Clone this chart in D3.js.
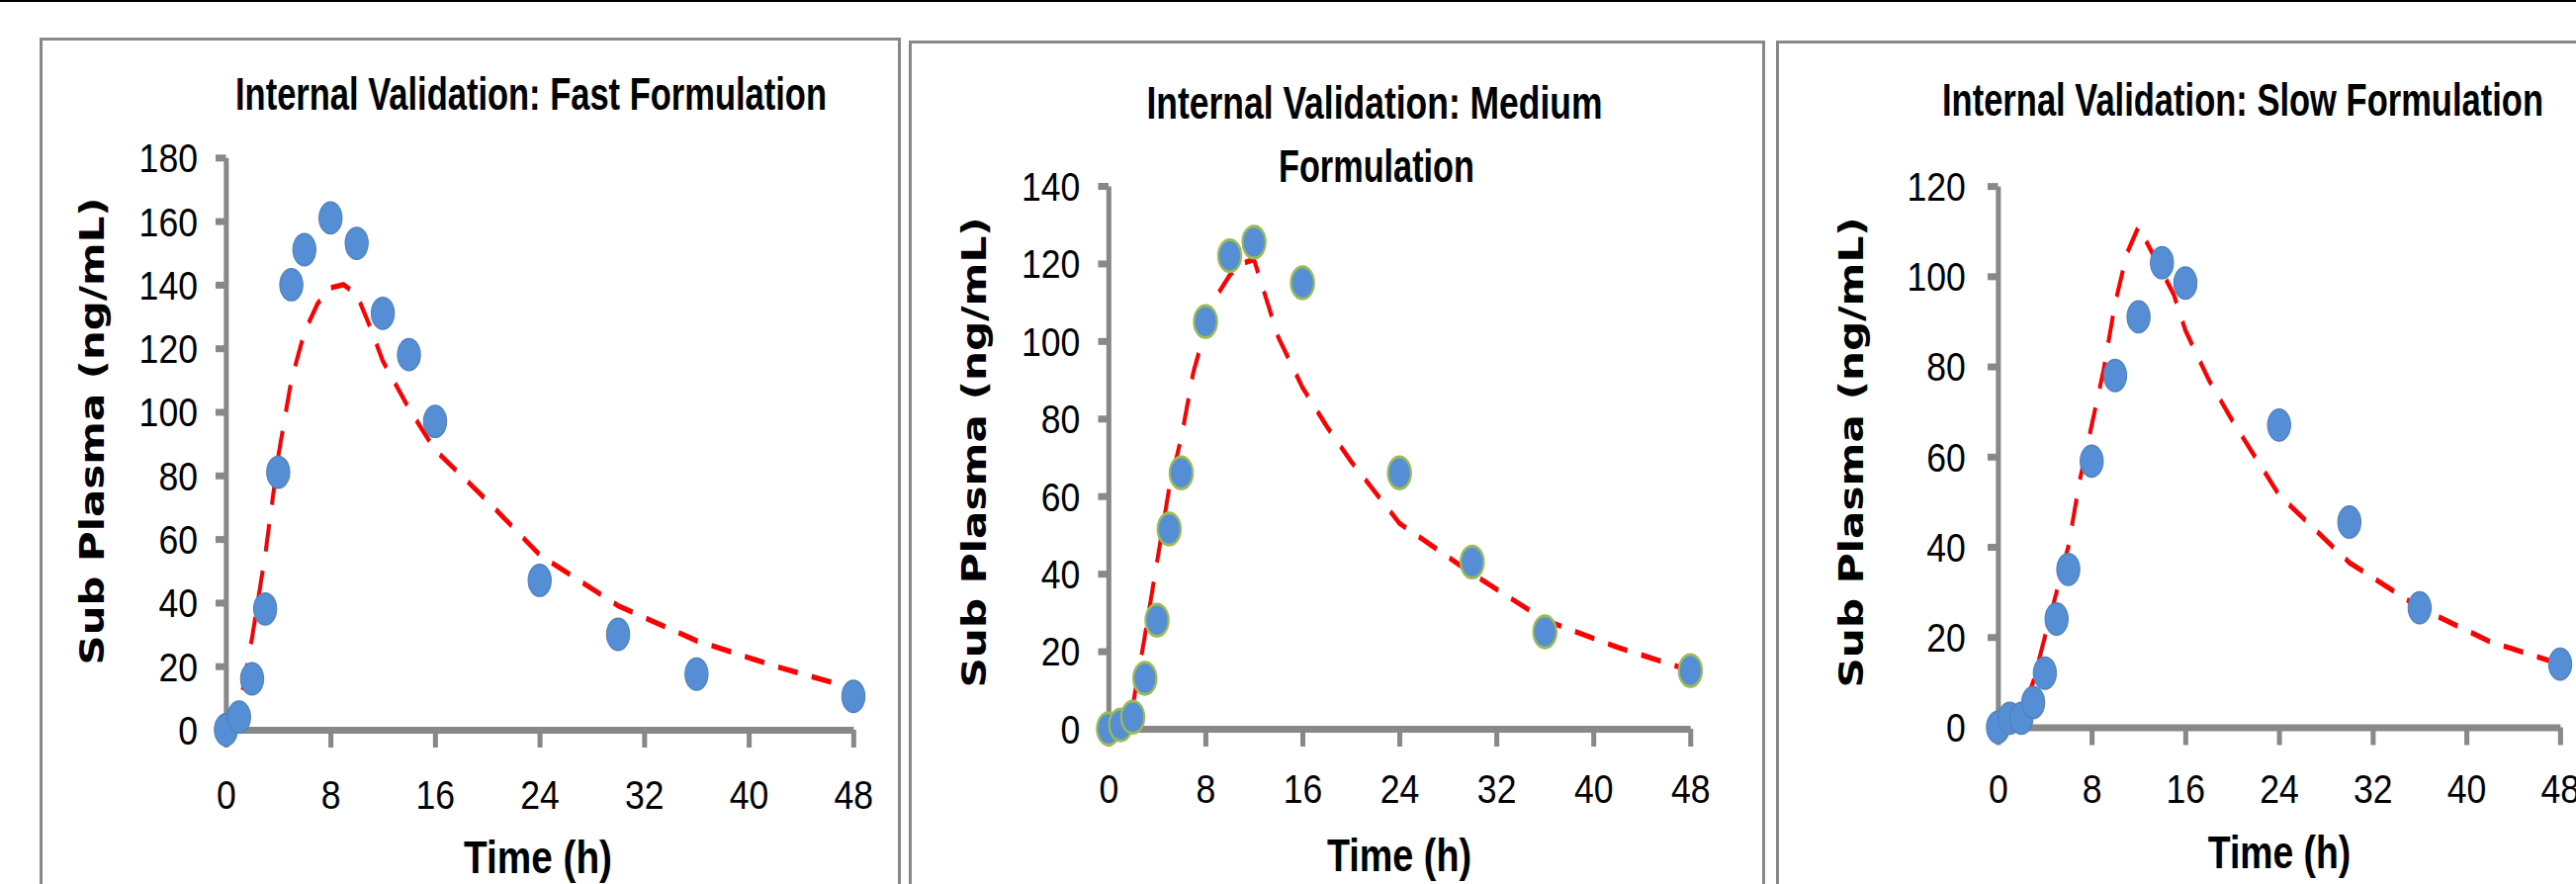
<!DOCTYPE html>
<html lang="en">
<head>
<meta charset="UTF-8">
<title>Internal Validation</title>
<script src="https://d3js.org/d3.v7.min.js"></script>
<style>
body { margin: 0; background: #fff; }
svg { display: block; }
</style>
</head>
<body>
<svg id="chart" width="2605" height="894"></svg>
<script>
// the source picture is squeezed sideways, so every panel is drawn
// in a wider space and then scaled by K on x
const K = 0.72;
const W = 2605, H = 894;

const xTicks = [0, 8, 16, 24, 32, 40, 48];
const yTitle = "Sub Plasma (ng/mL)";
const xTitle = "Time (h)";

// fast formulation
const fastTime = [0, 1, 2, 3, 4, 5, 6, 8, 10, 12, 14, 16, 24, 30, 36, 48];
const fastObs = [0, 4, 16, 38, 81, 140, 151, 161, 153, 131, 118, 97, 47, 30, 17.5, 10.5];
const fastPredTime = [0, 1, 2, 3, 4, 5, 6, 7, 8, 9, 10, 11, 12, 14, 16, 20, 24, 30, 36, 42, 48];
const fastPred = [0, 6, 29, 55, 86, 110, 125, 134, 139, 140, 137, 127, 116, 101, 88, 72, 55, 39, 28, 20, 13];
const fastYTicks = [0, 20, 40, 60, 80, 100, 120, 140, 160, 180];

// medium formulation
const medTime = [0, 1, 2, 3, 4, 5, 6, 8, 10, 12, 16, 24, 30, 36, 48];
const medObs = [0, 1, 3, 13, 28, 51.5, 66, 105, 122, 125.5, 115, 66, 43, 25, 15];
const medPredTime = [0, 1, 2, 3, 4, 5, 6, 7, 8, 9, 10, 11, 12, 13, 14, 16, 18, 20, 24, 30, 36, 42, 48];
const medPred = [0, 1, 6, 24, 43, 62, 75, 92, 103, 112, 117, 120, 121, 111, 101, 88, 78, 69, 53, 40, 28, 21, 15];
const medYTicks = [0, 20, 40, 60, 80, 100, 120, 140];

// slow formulation
const slowTime = [0, 1, 2, 3, 4, 5, 6, 8, 10, 12, 14, 16, 24, 30, 36, 48];
const slowObs = [0, 2, 2, 5.5, 12, 24, 35, 59, 78, 91, 103, 98.5, 67, 45.5, 26.5, 14];
const slowPredTime = [0, 1, 2, 3, 4, 5, 6, 7, 8, 9, 10, 11, 12, 13, 14, 15, 16, 18, 20, 24, 30, 36, 42, 48];
const slowPred = [0, 0.5, 3, 10, 20, 30, 40, 55, 67, 79, 94, 105, 111, 106, 101, 96, 88, 77, 68, 51.5, 36.5, 26.5, 19, 14];
const slowYTicks = [0, 20, 40, 60, 80, 100, 120];

const svg = d3.select("#chart");
svg.append("rect").attr("width", W).attr("height", 2).attr("fill", "#000");

function drawPanel(p) {
    // frame, in real pixels
    svg.append("rect")
        .attr("x", p.frame[0] + 1.5).attr("y", p.frame[1] + 1.5)
        .attr("width", p.frame[2] - p.frame[0] - 3).attr("height", H)
        .attr("fill", "none").attr("stroke", "#888").attr("stroke-width", 3);

    const g = svg.append("g").attr("transform", `scale(${K},1)`);

    const x = d3.scaleLinear().domain([0, 48]).range([p.x[0] / K, p.x[1] / K]);
    const y = d3.scaleLinear().domain([0, d3.max(p.yTicks)]).range(p.y);

    // title lines
    p.title.forEach(t => {
        g.append("text")
            .attr("x", t.cx / K).attr("y", t.base)
            .attr("text-anchor", "middle")
            .attr("font-family", "Liberation Sans, Arial, sans-serif")
            .attr("font-weight", "bold").attr("font-size", 47)
            .attr("textLength", t.w / K).attr("lengthAdjust", "spacingAndGlyphs")
            .text(t.text);
    });

    // axes
    const xAxis = g.append("g")
        .attr("transform", `translate(0,${p.y[0]})`)
        .call(d3.axisBottom(x).tickValues(xTicks).tickSizeInner(18).tickSizeOuter(0));
    xAxis.selectAll("text").attr("y", p.xLabelBase - p.y[0]).attr("dy", null);

    const yAxis = g.append("g")
        .attr("transform", `translate(${p.x[0] / K},0)`)
        .call(d3.axisLeft(y).tickValues(p.yTicks).tickSizeInner(14.6).tickSizeOuter(0));
    yAxis.selectAll("text").attr("x", -p.yLabelGap / K).attr("dy", "0.36em");

    [xAxis, yAxis].forEach(a => {
        a.attr("color", "#888");
        a.selectAll("path, line").attr("stroke-width", 7);
        a.selectAll("text")
            .attr("fill", "#000")
            .attr("font-family", "Liberation Sans, Arial, sans-serif")
            .attr("font-size", 40)
            .attr("textLength", d => String(d).length * 27.5)
            .attr("lengthAdjust", "spacingAndGlyphs");
    });

    // axis titles
    g.append("text")
        .attr("transform", `translate(${p.yTitle.bx / K},${p.yTitle.cy}) rotate(-90)`)
        .attr("text-anchor", "middle")
        .attr("font-family", "DejaVu Sans, Verdana, sans-serif")
        .attr("font-weight", "bold").attr("font-size", 48)
        .attr("textLength", p.yTitle.len).attr("lengthAdjust", "spacingAndGlyphs")
        .text(yTitle);

    g.append("text")
        .attr("x", p.xTitle.cx / K).attr("y", p.xTitle.base)
        .attr("text-anchor", "middle")
        .attr("font-family", "Liberation Sans, Arial, sans-serif")
        .attr("font-weight", "bold").attr("font-size", 47)
        .attr("textLength", p.xTitle.w / K).attr("lengthAdjust", "spacingAndGlyphs")
        .text(xTitle);

    // predicted curve (under the markers)
    const line = d3.line().x(d => x(d[0])).y(d => y(d[1]));
    g.append("path")
        .datum(d3.zip(p.predTime, p.pred))
        .attr("d", line)
        .attr("fill", "none")
        .attr("stroke", "#ff0000").attr("stroke-width", 5.5)
        .attr("stroke-dasharray", "28,20");

    // observed points
    g.append("g").selectAll("circle")
        .data(d3.zip(p.time, p.obs))
        .join("circle")
        .attr("cx", d => x(d[0])).attr("cy", d => y(d[1]))
        .attr("r", 16.2)
        .attr("fill", "#558ed5")
        .attr("stroke", p.dotStroke).attr("stroke-width", p.dotStroke === "#9bbb59" ? 3 : 1.5);
}

drawPanel({
    frame: [40, 38, 911], x: [228.5, 863], y: [738, 159.3], yTicks: fastYTicks,
    time: fastTime, obs: fastObs, predTime: fastPredTime, pred: fastPred, dotStroke: "#4f81bd",
    title: [{ text: "Internal Validation: Fast Formulation", cx: 537, base: 111, w: 598 }],
    xLabelBase: 818, yLabelGap: 28.5,
    yTitle: { bx: 105, cy: 436, len: 473 }, xTitle: { cx: 544, base: 883, w: 150 }
});

drawPanel({
    frame: [919, 41, 1785], x: [1121, 1709.4], y: [737, 188], yTicks: medYTicks,
    time: medTime, obs: medObs, predTime: medPredTime, pred: medPred, dotStroke: "#9bbb59",
    title: [{ text: "Internal Validation: Medium", cx: 1390, base: 120, w: 461 },
            { text: "Formulation", cx: 1392, base: 184, w: 198 }],
    xLabelBase: 812, yLabelGap: 28.7,
    yTitle: { bx: 997.5, cy: 457.5, len: 476 }, xTitle: { cx: 1415, base: 881, w: 146 }
});

drawPanel({
    frame: [1796, 41, 2700], x: [2020.5, 2589], y: [735.5, 188.1], yTicks: slowYTicks,
    time: slowTime, obs: slowObs, predTime: slowPredTime, pred: slowPred, dotStroke: "#4f81bd",
    title: [{ text: "Internal Validation: Slow Formulation", cx: 2268, base: 117, w: 608 }],
    xLabelBase: 812, yLabelGap: 32.7,
    yTitle: { bx: 1884, cy: 457.5, len: 476 }, xTitle: { cx: 2305, base: 878, w: 144.5 }
});
</script>
</body>
</html>
